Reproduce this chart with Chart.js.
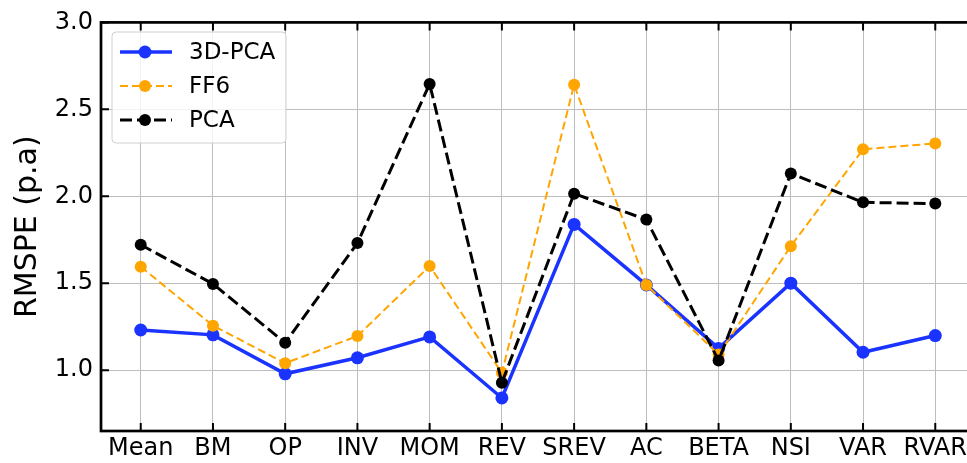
<!DOCTYPE html>
<html>
<head>
<meta charset="utf-8">
<script src="https://cdn.jsdelivr.net/npm/chart.js@4.4.1/dist/chart.umd.min.js"></script>
<style>
  html, body { margin: 0; padding: 0; background: #fff; overflow: hidden; }
  #wrap { width: 967px; height: 463px; overflow: hidden; }
  canvas { display: block; }
</style>
</head>
<body>
<div id="wrap"><canvas id="c" width="985" height="463"></canvas></div>
<script>
const categories = ["Mean","BM","OP","INV","MOM","REV","SREV","AC","BETA","NSI","VAR","RVAR"];
const pca3d = [1.231, 1.203, 0.979, 1.071, 1.191, 0.840, 1.838, 1.490, 1.125, 1.500, 1.103, 1.199];
const ff6   = [1.595, 1.256, 1.040, 1.196, 1.599, 0.985, 2.642, 1.490, 1.090, 1.713, 2.270, 2.304];
const pca   = [1.721, 1.496, 1.157, 1.731, 2.646, 0.928, 2.015, 1.866, 1.055, 2.131, 1.965, 1.958];
const yTicks = [1.0, 1.5, 2.0, 2.5, 3.0];
const yTitle = "RMSPE (p.a)";

const FONT = "'DejaVu Sans', sans-serif";
const toPts = arr => arr.map((v, i) => ({ x: i, y: v }));

const seriesStyle = [
  { label: "3D-PCA", data: pca3d, color: "#1a33ff", width: 3.5, dash: [], radius: 6.5, order: 2 },
  { label: "FF6",    data: ff6,   color: "#ffa500", width: 2,   dash: [8, 4], radius: 6, order: 1 },
  { label: "PCA",    data: pca,   color: "#000000", width: 3,   dash: [12, 5], radius: 6, order: 0 }
];

const frameTicks = {
  id: "frameTicks",
  afterDatasetsDraw(chart) {
    const { ctx, chartArea: a, scales } = chart;
    ctx.save();
    ctx.strokeStyle = "#000";
    ctx.lineWidth = 2;
    const L = 8;
    scales.x.ticks.forEach(t => {
      const x = scales.x.getPixelForValue(t.value);
      ctx.beginPath();
      ctx.moveTo(x, a.bottom); ctx.lineTo(x, a.bottom - L);
      ctx.moveTo(x, a.top); ctx.lineTo(x, a.top + L);
      ctx.stroke();
    });
    scales.y.ticks.forEach(t => {
      const y = scales.y.getPixelForValue(t.value);
      ctx.beginPath();
      ctx.moveTo(a.left, y); ctx.lineTo(a.left + L, y);
      ctx.moveTo(a.right, y); ctx.lineTo(a.right - L, y);
      ctx.stroke();
    });
    ctx.lineWidth = 2.7;
    ctx.strokeRect(a.left, a.top, a.right - a.left, a.bottom - a.top);

    // legend
    const bx = 112, by = 32, bw = 174, bh = 111, r = 4;
    ctx.beginPath();
    ctx.moveTo(bx + r, by);
    ctx.arcTo(bx + bw, by, bx + bw, by + bh, r);
    ctx.arcTo(bx + bw, by + bh, bx, by + bh, r);
    ctx.arcTo(bx, by + bh, bx, by, r);
    ctx.arcTo(bx, by, bx + bw, by, r);
    ctx.closePath();
    ctx.fillStyle = "rgba(255,255,255,0.8)";
    ctx.fill();
    ctx.strokeStyle = "#d0d0d0";
    ctx.lineWidth = 1;
    ctx.stroke();
    const rows = [52, 86, 120];
    chart.data.datasets.forEach((ds, i) => {
      const y = rows[i];
      ctx.strokeStyle = ds.borderColor;
      ctx.lineWidth = ds.borderWidth;
      ctx.setLineDash(ds.borderDash || []);
      ctx.beginPath();
      ctx.moveTo(120, y); ctx.lineTo(172, y);
      ctx.stroke();
      ctx.setLineDash([]);
      ctx.fillStyle = ds.borderColor;
      ctx.beginPath();
      ctx.arc(145, y, ds.pointRadius, 0, Math.PI * 2);
      ctx.fill();
      ctx.fillStyle = "#000";
      ctx.font = "23px " + FONT;
      ctx.textBaseline = "middle";
      ctx.textAlign = "left";
      ctx.fillText(ds.label, 189, y + 1);
    });
    ctx.restore();
  }
};

new Chart(document.getElementById("c"), {
  type: "line",
  data: {
    datasets: seriesStyle.map(s => ({
      label: s.label,
      data: toPts(s.data),
      borderColor: s.color,
      backgroundColor: s.color,
      pointBackgroundColor: s.color,
      pointBorderWidth: 0,
      pointRadius: s.radius,
      borderWidth: s.width,
      borderDash: s.dash,
      order: s.order,
      tension: 0,
      fill: false
    }))
  },
  options: {
    responsive: false,
    animation: false,
    events: [],
    layout: { padding: { left: 0, top: 20, right: 10, bottom: 0 } },
    plugins: { legend: { display: false }, tooltip: { enabled: false } },
    scales: {
      x: {
        type: "linear",
        min: -0.55,
        max: 11.55,
        afterBuildTicks: s => { s.ticks = categories.map((_, i) => ({ value: i })); },
        afterFit: s => { s.height = 32; },
        ticks: {
          autoSkip: false,
          maxRotation: 0,
          padding: 3,
          color: "#000",
          font: { family: FONT, size: 24 },
          callback: v => categories[v]
        },
        grid: { color: "#bdbdbd", lineWidth: 1, drawTicks: false },
        border: { display: false }
      },
      y: {
        min: 0.65,
        max: 3.0,
        afterBuildTicks: s => { s.ticks = yTicks.map(v => ({ value: v })); },
        afterFit: s => { s.width = 101; },
        ticks: {
          padding: 8,
          color: "#000",
          font: { family: FONT, size: 24 },
          callback: v => Number(v).toFixed(1)
        },
        title: {
          display: true,
          text: yTitle,
          color: "#000",
          font: { family: FONT, size: 30 },
          padding: { top: 10, bottom: 0 }
        },
        grid: { color: "#bdbdbd", lineWidth: 1, drawTicks: false },
        border: { display: false }
      }
    }
  },
  plugins: [frameTicks]
});
</script>
</body>
</html>
